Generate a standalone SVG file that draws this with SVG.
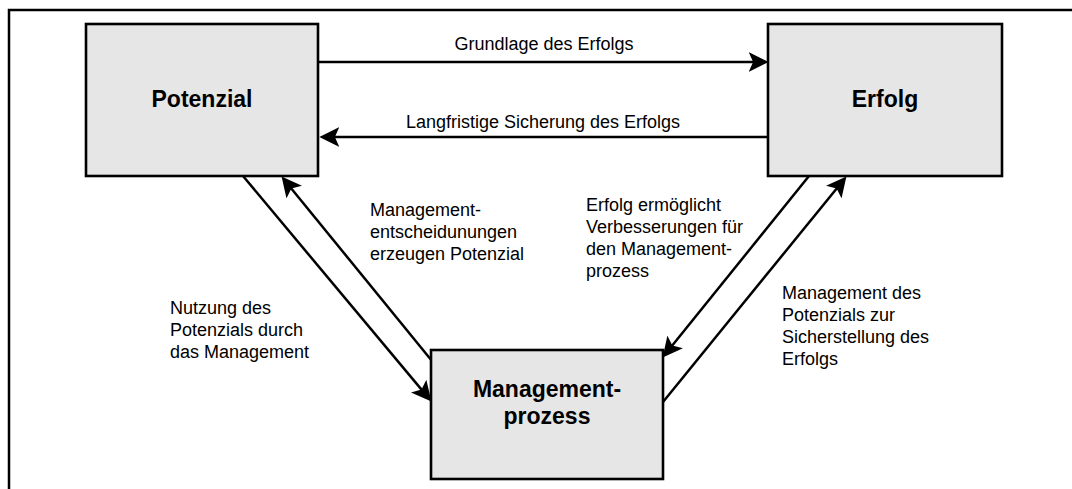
<svg xmlns="http://www.w3.org/2000/svg" width="1072" height="489" viewBox="0 0 1072 489">
<style>
.box{fill:#e6e6e6;stroke:#000;stroke-width:2.6}
.title{font-family:"Liberation Sans",Arial,sans-serif;font-weight:bold;font-size:23px;text-anchor:middle;fill:#000}
.lbl{font-family:"Liberation Sans",Arial,sans-serif;font-size:18px;fill:#000}
.mid{text-anchor:middle}
.con{stroke:#000;stroke-width:2.5;fill:none;marker-end:url(#ah)}
.frame{stroke:#000;stroke-width:2.5;fill:none}
</style>
<defs>
<marker id="ah" markerUnits="userSpaceOnUse" markerWidth="20" markerHeight="20" viewBox="0 0 18 18" refX="12" refY="9" orient="auto">
<path d="M0,0 L18,9 L0,18 L4,9 z" fill="#000"/>
</marker>
</defs>
<rect width="1072" height="489" fill="#fff"/>
<path class="frame" d="M9,489 L9,10 L1072,10"/>
<g id="connectors">
<line class="con" x1="318" y1="62" x2="762" y2="62"/>
<line class="con" x1="768" y1="137" x2="326" y2="137"/>
<line class="con" x1="243" y1="176" x2="427.2" y2="396.4"/>
<line class="con" x1="432" y1="361" x2="285.8" y2="181.7"/>
<line class="con" x1="809" y1="176" x2="666.8" y2="352.3"/>
<line class="con" x1="663" y1="402" x2="842.2" y2="181.7"/>
</g>
<g id="labels">
<text class="lbl mid" x="544" y="50">Grundlage des Erfolgs</text>
<text class="lbl mid" x="543" y="128">Langfristige Sicherung des Erfolgs</text>
<text class="lbl" x="370"><tspan x="370" y="216">Management-</tspan><tspan x="370" y="238">entscheidunungen</tspan><tspan x="370" y="260">erzeugen Potenzial</tspan></text>
<text class="lbl" x="586"><tspan x="586" y="211">Erfolg ermöglicht</tspan><tspan x="586" y="233">Verbesserungen für</tspan><tspan x="586" y="255">den Management-</tspan><tspan x="586" y="277">prozess</tspan></text>
<text class="lbl" x="170"><tspan x="170" y="314">Nutzung des</tspan><tspan x="170" y="336">Potenzials durch</tspan><tspan x="170" y="358">das Management</tspan></text>
<text class="lbl" x="782"><tspan x="782" y="299">Management des</tspan><tspan x="782" y="321">Potenzials zur</tspan><tspan x="782" y="343">Sicherstellung des</tspan><tspan x="782" y="365">Erfolgs</tspan></text>
</g>
<g id="potenzial">
<rect class="box" x="86" y="24" width="232" height="152"/>
<text class="title" x="202" y="107">Potenzial</text>
</g>
<g id="erfolg">
<rect class="box" x="768" y="24" width="234" height="152"/>
<text class="title" x="885" y="107">Erfolg</text>
</g>
<g id="managementprozess">
<rect class="box" x="431" y="350" width="232" height="129"/>
<text class="title"><tspan x="547" y="397">Management-</tspan><tspan x="547" y="424">prozess</tspan></text>
</g>
</svg>
